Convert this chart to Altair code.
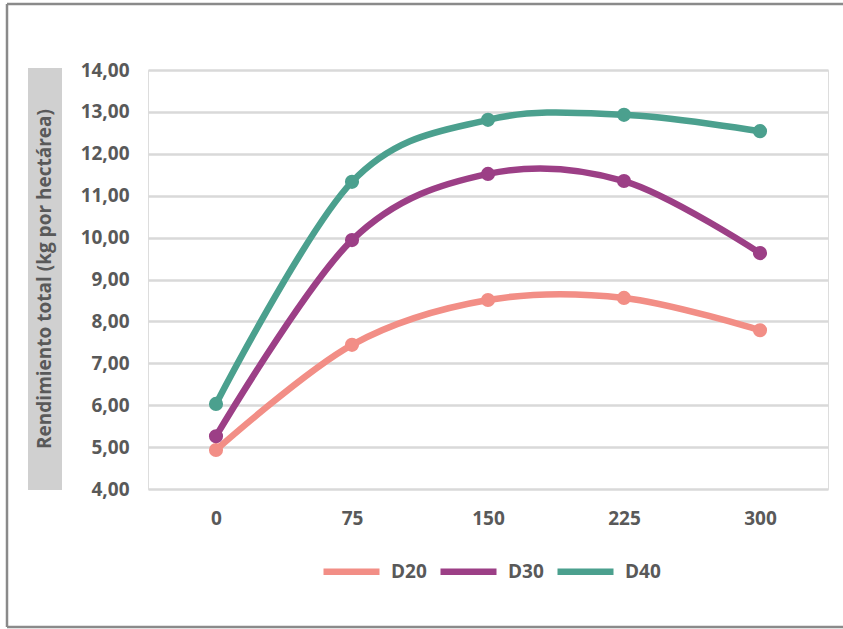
import altair as alt
import pandas as pd

doses = ["0", "75", "150", "225", "300"]
series = ["D20", "D30", "D40"]
d20 = [4.93, 7.44, 8.51, 8.56, 7.79]
d30 = [5.26, 9.94, 11.52, 11.35, 9.63]
d40 = [6.03, 11.33, 12.81, 12.93, 12.54]
colors = ["#F28E86", "#9C3F86", "#4BA08E"]
y_title = "Rendimiento total (kg por hectárea)"

rows = []
for name, vals in zip(series, [d20, d30, d40]):
    for d, v in zip(doses, vals):
        rows.append({"Dosis": d, "Serie": name, "Valor": v})
df = pd.DataFrame(rows)

W, H = 680, 419
FONT = "Open Sans"
GRAY_TXT = "#595959"
FS = 19

x_enc = alt.X("Dosis:N", sort=doses, scale=alt.Scale(paddingInner=0, paddingOuter=0),
              axis=alt.Axis(title=None, labelAngle=0, ticks=False, domain=False, grid=False,
                            labelPadding=20, labelFontSize=FS, labelFont=FONT,
                            labelFontWeight="bold", labelColor=GRAY_TXT))
y_enc = alt.Y("Valor:Q", scale=alt.Scale(domain=[4, 14], nice=False, zero=False),
              axis=alt.Axis(title=None, values=list(range(4, 15)),
                            labelExpr="replace(format(datum.value, '.2f'), '.', ',')",
                            ticks=False, domain=False, grid=True, gridColor="#d9d9d9",
                            gridWidth=2.5, labelPadding=19, labelFontSize=FS,
                            labelFont=FONT, labelFontWeight="bold", labelColor=GRAY_TXT))

color_scale = alt.Scale(domain=series, range=colors)
line_legend = alt.Legend(title=None, orient="none", direction="horizontal",
                         legendX=172, legendY=470,
                         symbolType="stroke", symbolSize=3136, symbolStrokeWidth=6.5,
                         labelFontSize=FS, labelFont=FONT,
                         labelFontWeight="bold", labelColor=GRAY_TXT,
                         labelOffset=8, columnPadding=0)

one = pd.DataFrame({"a": [0]})

title_bg = alt.Chart(one).mark_rect(color="#d0d0d0").encode(
    x=alt.value(-120), x2=alt.value(-86), y=alt.value(-2), y2=alt.value(420))
title_txt = alt.Chart(one).mark_text(
    text=y_title, angle=270, fontSize=19, font=FONT, fontWeight="bold",
    color=GRAY_TXT, align="center", baseline="middle").encode(
    x=alt.value(-103), y=alt.value(209))

frame_left = alt.Chart(one).mark_rule(color="#8a8a8a", strokeWidth=2.5).encode(
    x=alt.value(-141), y=alt.value(-66), y2=alt.value(557))
frame_top = alt.Chart(one).mark_rule(color="#8a8a8a", strokeWidth=2.5).encode(
    x=alt.value(-141), x2=alt.value(700), y=alt.value(-66))
frame_bot = alt.Chart(one).mark_rule(color="#8a8a8a", strokeWidth=2.5).encode(
    x=alt.value(-141), x2=alt.value(700), y=alt.value(557))

base = alt.Chart(df)
lines = base.mark_line(interpolate="cardinal", strokeWidth=6.5, strokeCap="round").encode(
    x=x_enc, y=y_enc,
    color=alt.Color("Serie:N", sort=series, scale=color_scale, legend=line_legend))
points = base.mark_circle(size=200, opacity=1).encode(
    x=x_enc, y=y_enc,
    fill=alt.Fill("Serie:N", sort=series, scale=color_scale, legend=None))

chart = alt.layer(title_bg, title_txt, frame_left, frame_top, frame_bot, lines, points).properties(
    width=W, height=H,
    autosize=alt.AutoSizeParams(type="none"),
    padding={"left": 148, "top": 70, "right": 15, "bottom": 140},
).configure_view(stroke=None).configure(background="white")

chart.save("out.html", embed_options={"renderer": "svg", "actions": False})
